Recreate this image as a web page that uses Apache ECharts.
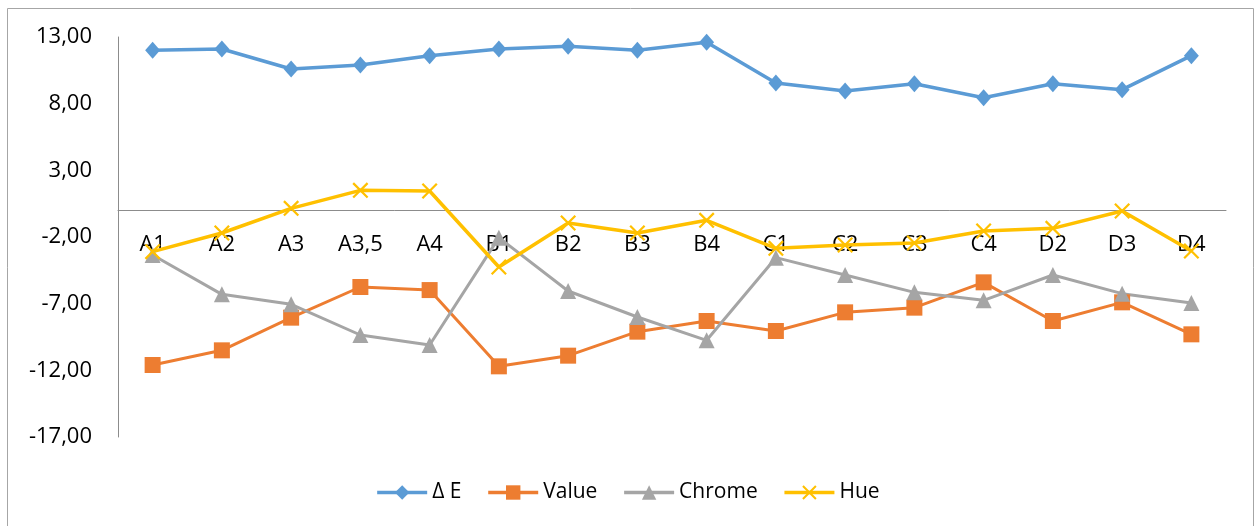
<!DOCTYPE html>
<html>
<head>
<meta charset="utf-8">
<script src="https://cdn.jsdelivr.net/npm/echarts@6/dist/echarts.min.js"></script>
<style>
  html, body { margin: 0; padding: 0; background: #fff; }
  #chart { width: 1255px; height: 526px; }
</style>
</head>
<body>
<div id="chart"></div>
<script>
// Sample categories along the x axis
const categories = ['A1', 'A2', 'A3', 'A3,5', 'A4', 'B1', 'B2', 'B3', 'B4', 'C1', 'C2', 'C3', 'C4', 'D2', 'D3', 'D4'];

// Measured colour differences per sample
const deltaE = [12.00, 12.10, 10.60, 10.90, 11.60, 12.10, 12.30, 12.00, 12.60, 9.55, 8.95, 9.50, 8.45, 9.50, 9.05, 11.60];
const valueDiff = [-11.60, -10.50, -8.05, -5.75, -5.98, -11.70, -10.90, -9.10, -8.30, -9.05, -7.65, -7.30, -5.40, -8.30, -6.90, -9.30];
const chromeDiff = [-3.35, -6.30, -7.05, -9.35, -10.10, -2.05, -6.05, -8.00, -9.75, -3.55, -4.85, -6.15, -6.75, -4.85, -6.25, -6.95];
const hueDiff = [-3.10, -1.70, 0.15, 1.50, 1.45, -4.25, -0.95, -1.70, -0.75, -2.85, -2.60, -2.45, -1.55, -1.35, -0.05, -3.05];

// Y axis range and step
const yMin = -17;
const yMax = 13;
const yStep = 5;

const FONT = '"Open Sans", "Noto Sans", sans-serif';
const TEXT = '#000000';
const AXIS_GREY = '#8C8C8C';

// Plot area insets
const grid = { left: 118, right: 29, top: 37, bottom: 89 };
const plotHeight = 526 - grid.top - grid.bottom;
// Lift the category axis from the bottom edge up to the value 0
const zeroLift = -((0 - yMin) / (yMax - yMin)) * plotHeight;

// Thin cross marker built from two filled bars
const crossSymbol = 'path://M0,1L1,0L10,9L9,10Z M9,0L10,1L1,10L0,9Z';

const chart = echarts.init(document.getElementById('chart'), null, { renderer: 'canvas' });

function lineSeries(name, data, color, symbol, size, width) {
  return {
    name: name,
    type: 'line',
    data: data,
    symbol: symbol,
    symbolSize: size,
    showAllSymbol: true,
    lineStyle: { color: color, width: width },
    itemStyle: { color: color },
    emphasis: { disabled: true },
    z: 3
  };
}

chart.setOption({
  animation: false,
  backgroundColor: '#ffffff',
  textStyle: { fontFamily: FONT },
  graphic: [{
    type: 'rect',
    shape: { x: 7.5, y: 8.5, width: 1246, height: 540 },
    style: { fill: 'none', stroke: '#A6A6A6', lineWidth: 1 },
    silent: true,
    z: -10
  }],
  grid: Object.assign({ containLabel: false }, grid),
  legend: {
    top: 477,
    left: 'center',
    itemWidth: 50,
    itemHeight: 18,
    itemGap: 25,
    lineStyle: { width: 3.5 },
    textStyle: { fontFamily: FONT, fontSize: 21, color: TEXT },
    data: ['Δ E', 'Value', 'Chrome', 'Hue']
  },
  xAxis: {
    type: 'category',
    data: categories,
    boundaryGap: true,
    position: 'bottom',
    offset: zeroLift,
    axisLine: { onZero: false, lineStyle: { color: AXIS_GREY, width: 1 } },
    axisTick: { show: false },
    axisLabel: { color: TEXT, fontFamily: FONT, fontSize: 22, margin: 23, interval: 0 },
    splitLine: { show: false }
  },
  yAxis: {
    type: 'value',
    min: yMin,
    max: yMax,
    interval: yStep,
    axisLine: { show: true, lineStyle: { color: AXIS_GREY, width: 1 } },
    axisTick: { show: false },
    splitLine: { show: false },
    axisLabel: {
      color: TEXT,
      fontFamily: FONT,
      fontSize: 22,
      margin: 26,
      formatter: v => v.toFixed(2).replace('.', ',')
    }
  },
  series: [
    lineSeries('Δ E', deltaE, '#5B9BD5', 'diamond', [15, 17], 3.5),
    lineSeries('Value', valueDiff, '#ED7D31', 'rect', 16, 3),
    lineSeries('Chrome', chromeDiff, '#A5A5A5', 'triangle', 16, 3),
    lineSeries('Hue', hueDiff, '#FFC000', crossSymbol, 16, 3.5)
  ]
});
</script>
</body>
</html>
